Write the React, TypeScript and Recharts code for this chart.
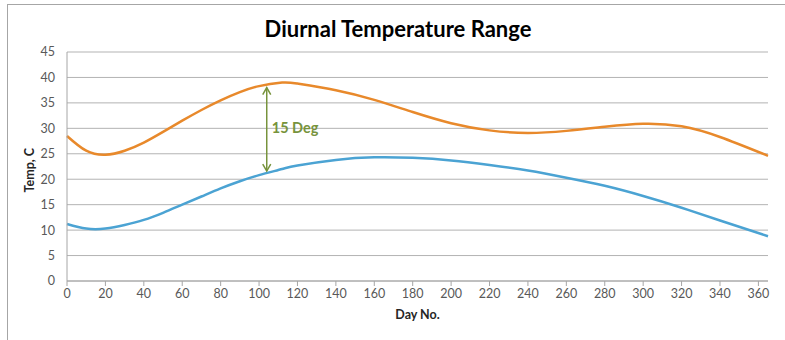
import { CartesianGrid, Line, LineChart, ReferenceLine, XAxis, YAxis } from "recharts";

const days = [0, 10, 20, 30, 40, 50, 60, 70, 80, 90, 100, 112, 120, 140, 160, 180, 200, 220, 240, 260, 280, 300, 320, 340, 365];
const maxTemp = [28.5, 25.6, 24.8, 25.6, 27.2, 29.3, 31.5, 33.6, 35.5, 37.1, 38.3, 39.0, 38.8, 37.5, 35.6, 33.2, 31.0, 29.6, 29.1, 29.5, 30.3, 30.9, 30.4, 28.3, 24.6];
const minTemp = [11.2, 10.3, 10.3, 11.0, 12.0, 13.4, 15.0, 16.6, 18.2, 19.6, 20.8, 22.0, 22.7, 23.8, 24.3, 24.2, 23.7, 22.8, 21.7, 20.3, 18.7, 16.7, 14.4, 11.9, 8.8];
const xTicks = [0, 20, 40, 60, 80, 100, 120, 140, 160, 180, 200, 220, 240, 260, 280, 300, 320, 340, 360];
const yTicks = [0, 5, 10, 15, 20, 25, 30, 35, 40, 45];
const rangeArrow = { day: 104, low: 21.6, high: 38.0, label: "15 Deg" };

const data = days.map((d, i) => ({ day: d, max: maxTemp[i], min: minTemp[i] }));

const font = "Lato, 'Open Sans', sans-serif";
const green = "#77933C";

function Arrow(props: any) {
  const { x1, y1, x2, y2 } = props;
  const top = Math.min(y1, y2);
  const bot = Math.max(y1, y2);
  return (
    <g>
      <line x1={x1} y1={top} x2={x2} y2={bot} stroke={green} strokeWidth={1.5} />
      <path d={`M${x1 - 4},${top + 7} L${x1},${top} L${x1 + 4},${top + 7}`} fill="none" stroke={green} strokeWidth={1.5} />
      <path d={`M${x1 - 4},${bot - 7} L${x1},${bot} L${x1 + 4},${bot - 7}`} fill="none" stroke={green} strokeWidth={1.5} />
      <text x={x1 + 5} y={(top + bot) / 2} dominantBaseline="middle" fill={green} fontWeight="bold" fontSize={14.5} fontFamily={font}>
        {rangeArrow.label}
      </text>
    </g>
  );
}

export default function App() {
  return (
    <div style={{ position: "absolute", left: 0, top: 0, width: 785, height: 340, overflow: "hidden", background: "#fff" }}>
      <div style={{ position: "absolute", left: 7, top: 4, width: 800, height: 400, border: "1px solid #a6a6a6" }} />
      <div
        style={{
          position: "absolute",
          left: 0,
          width: 796,
          top: 15,
          textAlign: "center",
          fontFamily: font,
          fontWeight: "bold",
          fontSize: 22,
          color: "#000",
        }}
      >
        Diurnal Temperature Range
      </div>
      <LineChart
        width={785}
        height={340}
        data={data}
        margin={{ top: 52, right: 17, left: 40, bottom: 29 }}
        style={{ position: "absolute", left: 0, top: 0 }}
      >
        <CartesianGrid vertical={false} stroke="#b3b3b3" />
        <XAxis
          dataKey="day"
          type="number"
          domain={[0, 365]}
          ticks={xTicks}
          interval={0}
          height={30}
          stroke="#a6a6a6"
          tickSize={5}
          tickMargin={3}
          tick={{ fill: "#595959", fontSize: 12.5, fontFamily: font }}
          label={{ value: "Day No.", position: "insideBottom", offset: -8, fill: "#262626", fontSize: 12.5, fontWeight: "bold", fontFamily: font }}
        />
        <YAxis
          domain={[0, 45]}
          ticks={yTicks}
          interval={0}
          width={27}
          stroke="#a6a6a6"
          tickLine={false}
          tickMargin={6}
          tick={{ fill: "#595959", fontSize: 12.5, fontFamily: font }}
          label={{ value: "Temp, C", angle: -90, position: "insideLeft", offset: -10, dy: 26, fill: "#262626", fontSize: 12.5, fontWeight: "bold", fontFamily: font }}
        />
        <Line dataKey="max" type="natural" stroke="#E8892B" strokeWidth={2.5} dot={false} isAnimationActive={false} />
        <Line dataKey="min" type="natural" stroke="#4BA3D3" strokeWidth={2.5} dot={false} isAnimationActive={false} />
        <ReferenceLine
          segment={[
            { x: rangeArrow.day, y: rangeArrow.low },
            { x: rangeArrow.day, y: rangeArrow.high },
          ]}
          shape={<Arrow />}
        />
      </LineChart>
    </div>
  );
}
